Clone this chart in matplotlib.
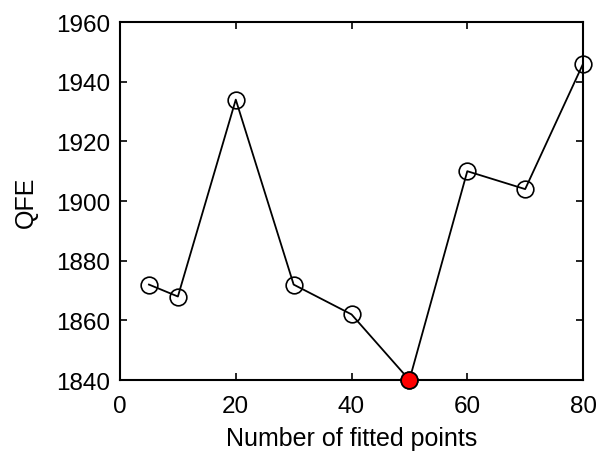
import numpy as np
import matplotlib.pyplot as plt

plt.rcParams["font.family"] = ["Liberation Sans", "DejaVu Sans"]

# Datos
n_puntos = [5, 10, 20, 30, 40, 50, 60, 70, 80]
qfe      = [1872, 1868, 1934, 1872, 1862, 1840, 1910, 1904, 1946]

x_ticks = [0, 20, 40, 60, 80]
y_ticks = [1840, 1860, 1880, 1900, 1920, 1940, 1960]

FS = 17.5

fig = plt.figure(figsize=(5.98, 4.52), dpi=100)
ax = fig.add_axes([0.2007, 0.157, 0.7743, 0.792])

ax.plot(n_puntos, qfe, "-", color="black", lw=1.3, zorder=2)
ax.plot(n_puntos, qfe, "o", mfc="none", mec="black", ms=12, mew=1.2, zorder=3, clip_on=False)

# mínimo resaltado en rojo
i_min = int(np.argmin(qfe))
ax.plot(n_puntos[i_min], qfe[i_min], "o", mfc="red", mec="black", ms=12, mew=1.2,
        zorder=4, clip_on=False)

ax.set_xlim(0, 80)
ax.set_ylim(1840, 1960)
ax.set_xticks(x_ticks)
ax.set_yticks(y_ticks)
ax.tick_params(axis="both", direction="in", top=True, right=True, length=5, width=1.2,
               labelsize=FS)
ax.tick_params(axis="x", pad=11)
ax.tick_params(axis="y", pad=7)
for s in ax.spines.values():
    s.set_linewidth(1.5)

ax.set_xlabel("Number of fitted points", fontsize=18, labelpad=6)
ax.set_ylabel("QFE", fontsize=18, labelpad=13)

fig.savefig("out.png", dpi=100)
